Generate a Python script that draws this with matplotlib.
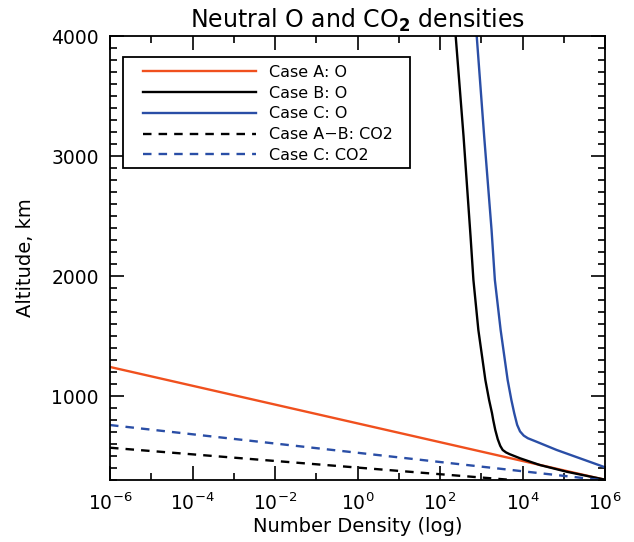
import numpy as np
import matplotlib
matplotlib.use("Agg")
import matplotlib.pyplot as plt
from matplotlib.ticker import FixedLocator, MultipleLocator, FuncFormatter, NullFormatter
from matplotlib.patches import Rectangle

# ---- data (log10 of number density, altitude in km) ----
caseA_O_logn = [-6.0, 6.0]
caseA_O_alt = [1242, 302]

caseB_O_logn = [2.38, 2.57, 2.74, 2.81, 2.93, 3.10, 3.19, 3.26, 3.29, 3.34, 3.40, 3.46,
                3.52, 3.60, 3.69, 3.94, 4.42, 5.07, 6.0]
caseB_O_alt = [4000, 3167, 2333, 1967, 1550, 1133, 967, 858, 800, 717, 640, 585,
               550, 530, 515, 481, 425, 369, 303]

caseC_O_logn = [2.89, 3.07, 3.25, 3.33, 3.47, 3.64, 3.73, 3.80, 3.87, 3.94, 4.03, 4.13,
                4.34, 4.83, 6.0]
caseC_O_alt = [4000, 3167, 2383, 1967, 1550, 1133, 967, 856, 760, 705, 670, 648,
               619, 550, 406]

caseAB_CO2_logn = [-6.0, 6.0]
caseAB_CO2_alt = [569, 238]

caseC_CO2_logn = [-6.0, 6.0]
caseC_CO2_alt = [758, 296]

xtick_exps = [-6, -4, -2, 0, 2, 4, 6]
xminor_exps = [-5, -3, -1, 1, 3, 5]
yticks = [1000, 2000, 3000, 4000]

fig = plt.figure(figsize=(6.34, 5.42), dpi=100)
ax = fig.add_axes([110/634, 1-480/542, 495/634, 444/542])

orange = '#f0501e'
blue = '#2a4ea6'
lw = 1.7
dash = (0, (3.6, 3.0))

def p(logn):
    return 10.0 ** np.asarray(logn)

ax.plot(p(caseA_O_logn), caseA_O_alt, color=orange, lw=lw, label='Case A: O')
ax.plot(p(caseB_O_logn), caseB_O_alt, color='black', lw=lw, label='Case B: O')
ax.plot(p(caseC_O_logn), caseC_O_alt, color=blue, lw=lw, label='Case C: O')
ax.plot(p(caseAB_CO2_logn), caseAB_CO2_alt, color='black', lw=lw, ls=dash, label='Case A\u2212B: CO2')
ax.plot(p(caseC_CO2_logn), caseC_CO2_alt, color=blue, lw=lw, ls=dash, label='Case C: CO2')

ax.set_xscale('log')
ax.set_xlim(1e-6, 1e6)
ax.set_ylim(300, 4000)

ax.xaxis.set_major_locator(FixedLocator([10.0**e for e in xtick_exps]))
ax.xaxis.set_minor_locator(FixedLocator([10.0**e for e in xminor_exps]))
ax.xaxis.set_minor_formatter(NullFormatter())
ax.xaxis.set_major_formatter(FuncFormatter(lambda v, pos: r'$\mathregular{10^{%d}}$' % round(np.log10(v))))
ax.yaxis.set_major_locator(FixedLocator(yticks))
ax.yaxis.set_minor_locator(MultipleLocator(100))

ax.tick_params(which='both', direction='in', top=True, right=True, width=1.2, labelsize=13.5)
ax.tick_params(which='major', length=10)
ax.tick_params(which='minor', length=5)
ax.tick_params(axis='x', which='major', pad=9)
ax.tick_params(axis='y', which='major', pad=8)
for s in ax.spines.values():
    s.set_linewidth(1.3)

ax.set_xlabel('Number Density (log)', fontsize=14, labelpad=2)
ax.set_ylabel('Altitude, km', fontsize=14, labelpad=12)
ax.set_title(r'Neutral O and CO$_\mathbf{2}$ densities', fontsize=17, pad=6)

# legend box
ax.add_patch(Rectangle((13/495, 1-132/444), 287/495, 111/444, transform=ax.transAxes,
                       facecolor='white', edgecolor='black', lw=1.3, zorder=4))
leg = ax.legend(loc='upper left', bbox_to_anchor=(33/495, 1-29/444), fontsize=11.5,
                frameon=False, handlelength=7.1, handletextpad=0.8, borderpad=0,
                borderaxespad=0, labelspacing=0.36)
leg.set_zorder(5)

fig.savefig('out.png', dpi=100)
